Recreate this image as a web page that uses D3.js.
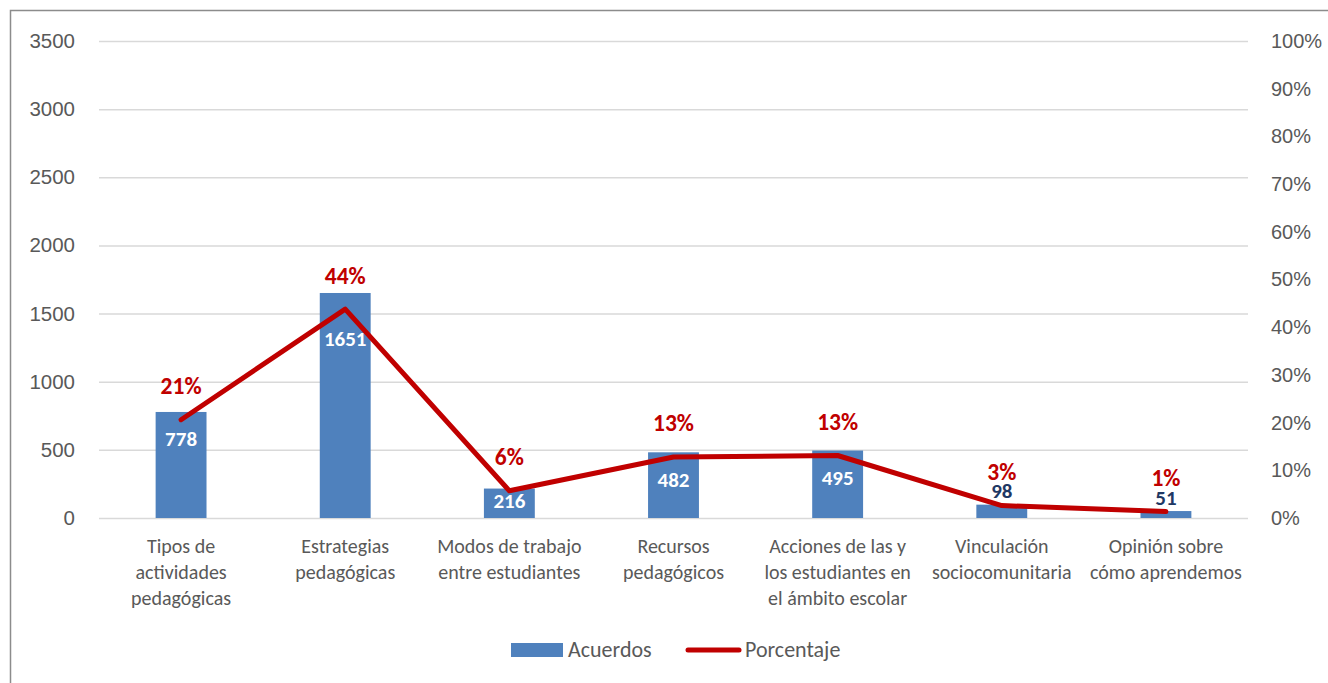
<!DOCTYPE html>
<html><head><meta charset="utf-8">
<script src="https://cdn.jsdelivr.net/npm/d3@7"></script>
<style>
body{margin:0;background:#fff;}
svg{display:block;font-family:Carlito,Lato,"Open Sans",sans-serif;}
</style></head>
<body><svg id="c" width="1328" height="683"></svg>
<script>
const categories = [
  ["Tipos de","actividades","pedagógicas"],
  ["Estrategias","pedagógicas"],
  ["Modos de trabajo","entre estudiantes"],
  ["Recursos","pedagógicos"],
  ["Acciones de las y","los estudiantes en","el ámbito escolar"],
  ["Vinculación","sociocomunitaria"],
  ["Opinión sobre","cómo aprendemos"]
];
const acuerdos = [778, 1651, 216, 482, 495, 98, 51];
const porcentaje = [0.206, 0.438, 0.057, 0.128, 0.131, 0.026, 0.0135];
const porcentajeLabels = ["21%","44%","6%","13%","13%","3%","1%"];
const leftTicks = [0,500,1000,1500,2000,2500,3000,3500];
const rightTicks = [0,0.1,0.2,0.3,0.4,0.5,0.6,0.7,0.8,0.9,1.0];
const seriesNames = ["Acuerdos","Porcentaje"];

const svg = d3.select("#c");
const L = 99, R = 1248, T = 41, B = 518;
const blue = "#4F81BD", red = "#C00000", grey = "#595959";

svg.append("rect").attr("x",10.5).attr("y",10.5).attr("width",1340).attr("height",700)
  .attr("fill","none").attr("stroke","#8c8c8c").attr("stroke-width",1.5);

const x = d3.scaleBand().domain(d3.range(categories.length)).range([L,R]).paddingInner(0.69).paddingOuter(0.345);
const xc = i => x(i) + x.bandwidth()/2;
const yL = d3.scaleLinear().domain([0,3500]).range([B,T]);
const yR = d3.scaleLinear().domain([0,1]).range([B,T]);

// gridlines
svg.append("g").selectAll("line").data(leftTicks).join("line")
  .attr("x1",L).attr("x2",R).attr("y1",d=>yL(d)+0.5).attr("y2",d=>yL(d)+0.5)
  .attr("stroke","#D9D9D9").attr("stroke-width",1.5);

// left axis
const gl = svg.append("g").attr("transform",`translate(${L},0)`)
  .call(d3.axisLeft(yL).tickValues(leftTicks).tickSize(0).tickPadding(24).tickFormat(d3.format("d")));
gl.select(".domain").remove();
gl.selectAll("text").attr("fill",grey).style("font-size","20.5px").style("font-family","inherit");

// right axis
const gr = svg.append("g").attr("transform",`translate(${R},0)`)
  .call(d3.axisRight(yR).tickValues(rightTicks).tickSize(0).tickPadding(23).tickFormat(d3.format(".0%")));
gr.select(".domain").remove();
gr.selectAll("text").attr("fill",grey).style("font-size","20px").style("font-family","inherit");

// bars
svg.append("g").selectAll("rect").data(acuerdos).join("rect")
  .attr("x",(d,i)=>x(i)).attr("width",x.bandwidth())
  .attr("y",d=>yL(d)).attr("height",d=>B-yL(d)).attr("fill",blue);

// x category labels
const cg = svg.append("g");
categories.forEach((lines,i)=>{
  const t = cg.append("text").attr("x",xc(i)).attr("y",553).attr("text-anchor","middle")
    .attr("fill",grey).style("font-size","20px");
  lines.forEach((s,j)=>t.append("tspan").attr("x",xc(i)).attr("dy", j===0?0:26).text(s));
});

// line
const line = d3.line().x((d,i)=>xc(i)).y(d=>yR(d));
svg.append("path").datum(porcentaje).attr("d",line).attr("fill","none")
  .attr("stroke",red).attr("stroke-width",5).attr("stroke-linejoin","round").attr("stroke-linecap","round");

// bar labels
svg.append("g").selectAll("text").data(acuerdos).join("text")
  .attr("x",(d,i)=>xc(i)).attr("text-anchor","middle").style("font-size","21px").style("font-weight","bold")
  .attr("y",(d,i)=>{
    const top = yL(d), ly = yR(porcentaje[i]);
    if (B - top < 25) return top - 14 + 7.5;
    if (B - top < 60) return top + 12 + 7.5;
    let c = top + 27;
    if (Math.abs(c - ly) < 15) c = ly + 29;
    return c + 7.5;
  })
  .attr("fill",d=> (B-yL(d) < 25) ? "#1F3864" : "#fff")
  .text(d=>d);

// percent labels
svg.append("g").selectAll("text").data(porcentaje).join("text")
  .attr("x",(d,i)=>xc(i)).attr("y",d=>yR(d)-34+8.5).attr("text-anchor","middle")
  .attr("fill",red).style("font-size","23.5px").style("font-weight","bold")
  .text((d,i)=>porcentajeLabels[i]);

// legend
const lg = svg.append("g");
lg.append("rect").attr("x",511).attr("y",643).attr("width",52).attr("height",14).attr("fill",blue);
lg.append("text").attr("x",568).attr("y",657).attr("fill",grey).style("font-size","22px").text(seriesNames[0]);
lg.append("line").attr("x1",688).attr("x2",739).attr("y1",650).attr("y2",650)
  .attr("stroke",red).attr("stroke-width",5).attr("stroke-linecap","round");
lg.append("text").attr("x",745).attr("y",657).attr("fill",grey).style("font-size","22px").text(seriesNames[1]);
</script></body></html>
